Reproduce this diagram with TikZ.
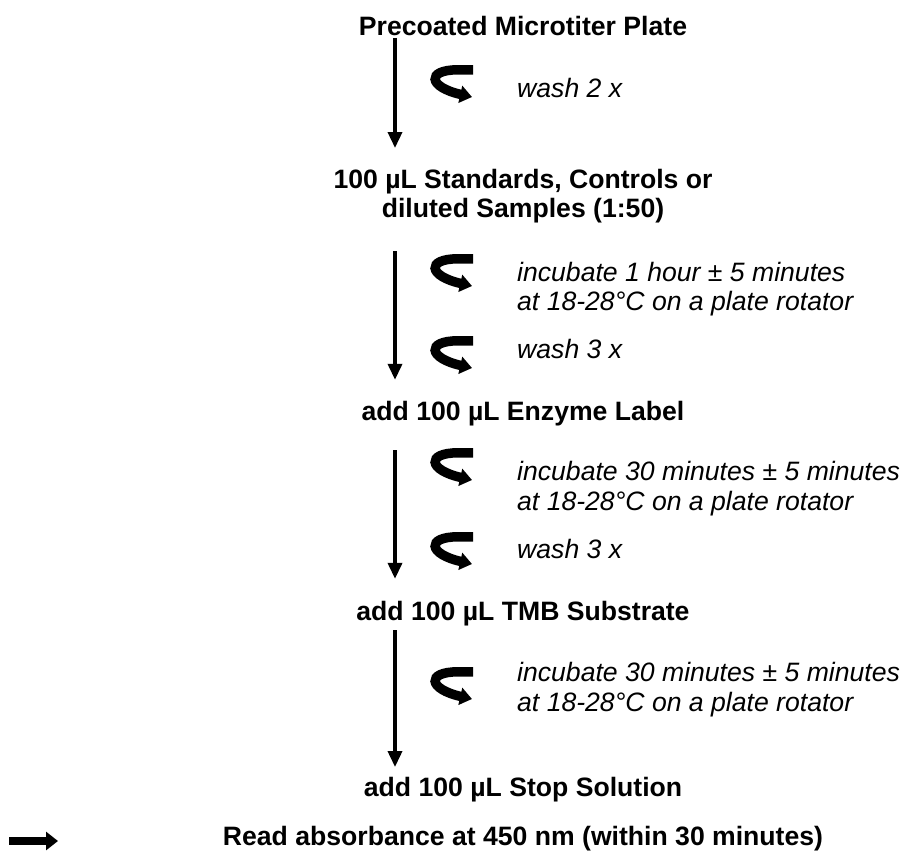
\documentclass[tikz,border=0pt]{standalone}
\usepackage{fontspec}
\setmainfont{Liberation Sans}
\usetikzlibrary{arrows.meta}
\begin{document}
\begin{tikzpicture}[x=1pt,y=-1pt,
  stepnode/.style={font=\fontsize{26.6}{29}\selectfont\bfseries, inner sep=0pt, align=center},
  note/.style={font=\fontsize{26.6}{29.5}\selectfont\itshape, inner sep=0pt, align=left},
  flow/.style={line width=3.5pt, -{Triangle[width=14pt,length=16pt]}},
  bigarrow/.style={line width=8pt, -{Triangle[width=18pt,length=12pt]}},
  pics/curl/.style={code={
    \draw[line width=9.5pt, -{Triangle[width=17pt,length=12pt]}]
      (41,4.8) -- (26,4.8) .. controls (-6,4.8) and (-4,22) .. (40,32);
  }},
]
\useasboundingbox (0,0) rectangle (904,852);

% main steps
\node[stepnode, anchor=base] (prec) at (523,35) {Precoated Microtiter Plate};
\node[stepnode, anchor=center] (std) at (523,196.6) {100 µL Standards, Controls or\\diluted Samples (1:50)};
\node[stepnode, anchor=base] (enz) at (523,420) {add 100 µL Enzyme Label};
\node[stepnode, anchor=base] (tmb) at (523,620) {add 100 µL TMB Substrate};
\node[stepnode, anchor=base] (stop) at (523,796) {add 100 µL Stop Solution};
\node[stepnode, anchor=base] (read) at (523,845) {Read absorbance at 450 nm (within 30 minutes)};

% side notes
\node[note, anchor=base west] (w1) at (517,97) {wash 2 x};
\node[note, anchor=west] (i1) at (517,289) {incubate 1 hour ± 5 minutes\\at 18-28°C on a plate rotator};
\node[note, anchor=base west] (w2) at (517,358) {wash 3 x};
\node[note, anchor=west] (i2) at (517,488.6) {incubate 30 minutes ± 5 minutes\\at 18-28°C on a plate rotator};
\node[note, anchor=base west] (w3) at (517,558) {wash 3 x};
\node[note, anchor=west] (i3) at (517,689.6) {incubate 30 minutes ± 5 minutes\\at 18-28°C on a plate rotator};

% curl icons
\pic at (432,65) {curl};
\pic at (432,254) {curl};
\pic at (432,336) {curl};
\pic at (432,448) {curl};
\pic at (432,532) {curl};
\pic at (432,667) {curl};

% flow arrows
\coordinate (ax) at (395,0);
\draw[flow, shorten <=2.4pt, shorten >=21.5pt] (prec.south -| ax) -- (std.north -| ax);
\draw[flow, shorten <=27.4pt, shorten >=20.7pt] (std.south -| ax) -- (enz.north -| ax);
\draw[flow, shorten <=24.4pt, shorten >=21.7pt] (enz.south -| ax) -- (tmb.north -| ax);
\draw[flow, shorten <=4.4pt, shorten >=9.5pt] (tmb.south -| ax) -- (stop.north -| ax);

% read arrow
\coordinate (r0) at (9,841);
\coordinate (r1) at (58,841);
\draw[bigarrow] (r0) -- (r1);
\end{tikzpicture}
\end{document}
